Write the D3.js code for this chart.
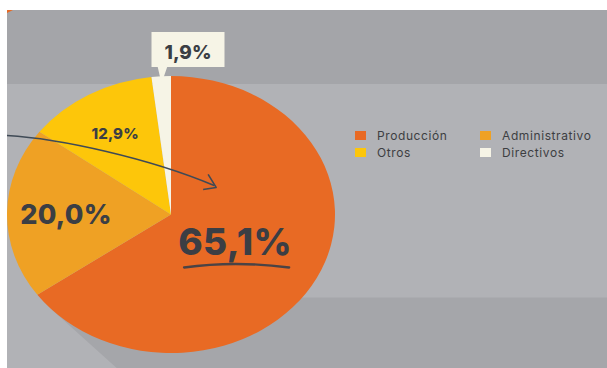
<!DOCTYPE html>
<html>
<head>
<meta charset="utf-8">
<script src="https://cdn.jsdelivr.net/npm/d3@7"></script>
<style>
  html, body { margin: 0; padding: 0; background: #ffffff; }
  svg { display: block; }
  text { font-family: Inter, "Open Sans", sans-serif; }
</style>
</head>
<body>
<svg id="chart" width="607" height="368"></svg>
<script>
// Distribución del personal por área (%)
const categories = ["Producción", "Administrativo", "Otros", "Directivos"];
const values = [65.1, 20.0, 12.9, 1.9];
const colors = ["#e86a24", "#efa124", "#fdc60a", "#f6f4e6"];

const fmt = v => d3.format(".1f")(v).replace(".", ",") + "%";

const W = 607, H = 368;
const svg = d3.select("#chart");

// panel background: darker top band, lighter body
const panel = { x: 7, y: 10 };
const bandTop = 84, bandBottom = 297.5;
svg.append("rect").attr("x", panel.x).attr("y", panel.y)
  .attr("width", W - panel.x).attr("height", H - panel.y).attr("fill", "#b1b2b6");
svg.append("rect").attr("x", panel.x).attr("y", panel.y)
  .attr("width", W - panel.x).attr("height", bandTop - panel.y).attr("fill", "#a4a5a9");
svg.append("polygon")
  .attr("points", `${panel.x},${panel.y} ${panel.x + 6},${panel.y} ${panel.x},${panel.y + 3}`)
  .attr("fill", "#e86a24");

// pie geometry (slightly flattened vertically)
const cx = 171, cy = 214.5, rx = 164, ry = 138.5;
const k = ry / rx;

// long shadow falling to the lower right
const shAng = 42 * Math.PI / 180;
const dx = Math.cos(shAng), dy = Math.sin(shAng);
const tt = Math.atan2(-ry * dx, rx * dy) + Math.PI;
const tx = cx + rx * Math.cos(tt), ty = cy + ry * Math.sin(tt);
const ex = tx + (H - ty) / dy * dx;
const yRight = bandBottom;
const xRight = cx + rx * Math.sqrt(1 - Math.pow((yRight - cy) / ry, 2));
svg.append("polygon")
  .attr("points", [[tx, ty], [ex, H], [W, H], [W, yRight], [xRight, yRight], [cx, cy]].map(p => p.join(",")).join(" "))
  .attr("fill", "#a5a6aa");

const pie = d3.pie().sort(null).value(d => d.value);
const data = pie(categories.map((c, i) => ({ name: c, value: values[i], color: colors[i] })));
const arc = d3.arc().innerRadius(0).outerRadius(rx);

const g = svg.append("g").attr("transform", `translate(${cx},${cy}) scale(1,${k})`);
g.selectAll("path.slice").data(data).enter().append("path")
  .attr("class", "slice")
  .attr("d", arc)
  .attr("fill", d => d.data.color);

// point on the (flattened) pie for an angle and radius fraction
function at(angle, frac) {
  return [cx + Math.sin(angle) * rx * frac, cy - Math.cos(angle) * ry * frac];
}
const mid = d => (d.startAngle + d.endAngle) / 2;

// in-slice value labels
const labelStyle = {
  "Producción": { frac: 0.44, size: 37, dy: 13 },
  "Administrativo": { frac: 0.64, size: 27, dy: 10 },
  "Otros": { frac: 0.68, size: 15, dy: 5.5 }
};
data.filter(d => labelStyle[d.data.name]).forEach(d => {
  const s = labelStyle[d.data.name];
  const [x, y] = at(mid(d), s.frac);
  svg.append("text")
    .attr("x", x).attr("y", y + s.dy)
    .attr("text-anchor", "middle")
    .attr("font-size", s.size)
    .attr("font-weight", 800)
    .attr("letter-spacing", s.size * 0.01)
    .attr("fill", "#3b3e44")
    .text(fmt(d.data.value));
  if (d.data.name === "Producción") {
    const y0 = y + s.dy + 12;
    svg.append("path")
      .attr("d", `M${x - 51},${y0} Q${x},${y0 - 7} ${x + 54},${y0}`)
      .attr("fill", "none").attr("stroke", "#4a4345")
      .attr("stroke-width", 2.4).attr("stroke-linecap", "round");
    // arrow sweeping in from the left edge
    const ax = x - 20, ay = y - 56;
    svg.append("path")
      .attr("d", `M${panel.x},${ay - 51} C60,${ay - 48} 150,${ay - 28} ${ax - 1},${ay - 1}`)
      .attr("fill", "none").attr("stroke", "#3f4a56").attr("stroke-width", 1.6);
    svg.append("path")
      .attr("d", `M${ax - 7},${ay - 12} L${ax + 1},${ay + 1} L${ax - 12},${ay + 3}`)
      .attr("fill", "none").attr("stroke", "#3f4a56").attr("stroke-width", 1.6)
      .attr("stroke-linejoin", "round");
  }
});

// callout for the smallest slice
const small = data[data.length - 1];
const [px, py] = at(mid(small), 0.97);
const box = { x: px - 10, y: 32, w: 73, h: 35 };
svg.append("path")
  .attr("d", `M${px - 4},${box.y + box.h - 1} L${px},${py + 3} L${px + 6},${box.y + box.h - 1} Z`)
  .attr("fill", "#f6f4e6");
svg.append("rect")
  .attr("x", box.x).attr("y", box.y).attr("width", box.w).attr("height", box.h)
  .attr("fill", "#f6f4e6");
svg.append("text")
  .attr("x", box.x + box.w / 2).attr("y", box.y + 27)
  .attr("text-anchor", "middle")
  .attr("font-size", 19).attr("font-weight", 800)
  .attr("fill", "#3b3e44")
  .text(fmt(small.data.value));

// legend, two columns
const legend = svg.append("g").attr("transform", "translate(355,131)");
const item = legend.selectAll("g").data(categories.map((c, i) => ({ name: c, color: colors[i] })))
  .enter().append("g")
  .attr("transform", (d, i) => `translate(${(i % 2) * 125},${Math.floor(i / 2) * 17})`);
item.append("rect").attr("width", 11).attr("height", 9).attr("fill", d => d.color);
item.append("text")
  .attr("x", 22).attr("y", 8.5)
  .attr("font-size", 12).attr("letter-spacing", 0.6)
  .attr("fill", "#3d3e42")
  .text(d => d.name);
</script>
</body>
</html>
